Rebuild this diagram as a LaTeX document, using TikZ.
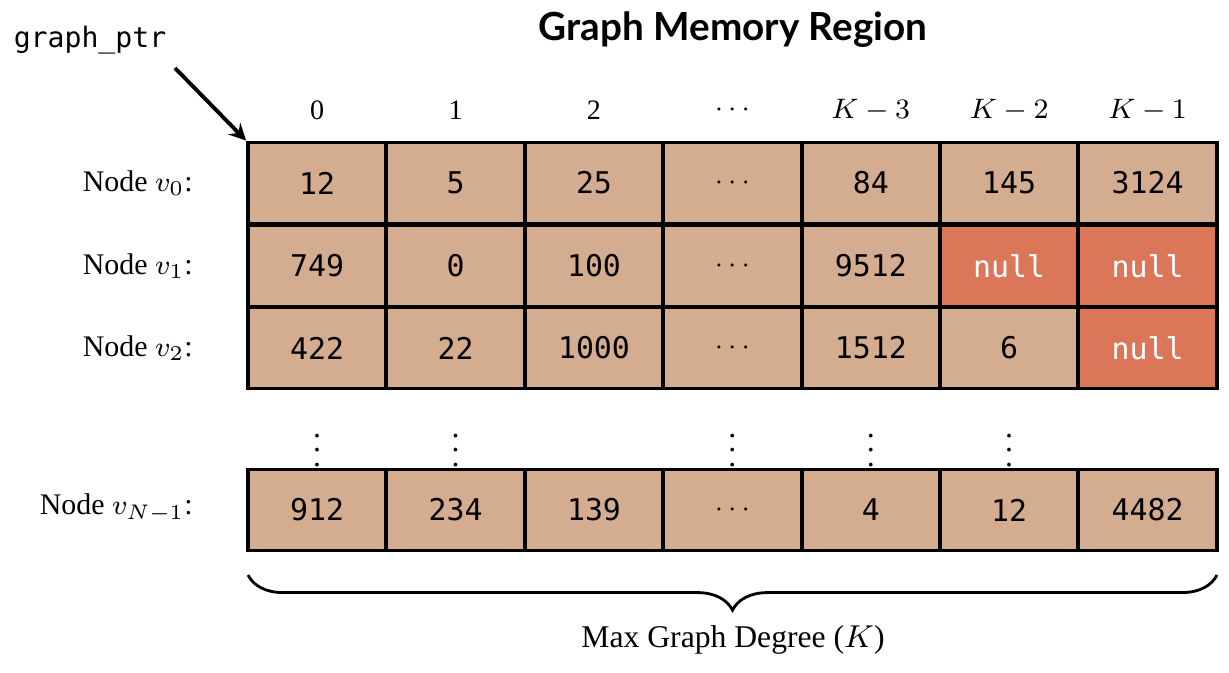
\documentclass[tikz,border=0pt]{standalone}
\usepackage{fontspec}
\setmainfont{Liberation Serif}
\setmonofont{DejaVu Sans Mono}
\newfontfamily\titlefont{Lato}
\usetikzlibrary{decorations.pathreplacing}
\definecolor{tan}{HTML}{D4AD91}
\definecolor{nul}{HTML}{DB7659}
\begin{document}
\begin{tikzpicture}[x=0.01cm,y=-0.01cm,
  cell/.style={draw=black,line width=1.1pt,fill=tan,minimum width=138.4*0.01cm,minimum height=81*0.01cm,inner sep=0pt,font=\ttfamily\fontsize{8.5}{10}\selectfont},
  nullc/.style={cell,fill=nul,text=white},
  hdr/.style={font=\fontsize{8}{10}\selectfont},
  lab/.style={anchor=east,font=\fontsize{8.5}{10}\selectfont},
  vd/.style={font=\fontsize{9}{10}\selectfont}]
\useasboundingbox (0,0) rectangle (1229,672);
\node[font=\titlefont\bfseries\fontsize{11}{13}\selectfont] (title) at (733,30) {Graph Memory Region};
\node[font=\ttfamily\fontsize{8}{10}\selectfont] (gp) at (90,40) {graph\_ptr};
\foreach \h [count=\i from 0] in {0,1,2,$\cdots$,$K-3$,$K-2$,$K-1$}
  \node[hdr] (h\i) at ({248+138.4*(\i+0.5)},110) {\h};
\foreach \r/\y/\vals in {0/183/{12/cell,5/cell,25/cell,$\cdots$/cell,84/cell,145/cell,3124/cell},1/266/{749/cell,0/cell,100/cell,$\cdots$/cell,9512/cell,null/nullc,null/nullc},2/348/{422/cell,22/cell,1000/cell,$\cdots$/cell,1512/cell,6/cell,null/nullc},3/510/{912/cell,234/cell,139/cell,$\cdots$/cell,4/cell,12/cell,4482/cell}}{
  \foreach \v/\s [count=\i from 0] in \vals
    \node[\s] (c\r\i) at ({248+138.4*(\i+0.5)},\y) {\v};
}
\node[lab] (l0) at (205,183) {Node $v_0$:};
\node[lab] (l1) at (205,266) {Node $v_1$:};
\node[lab] (l2) at (205,348) {Node $v_2$:};
\node[lab] (l3) at (205,508) {Node $v_{N-1}$:};
\foreach \i in {0,1,3,4,5}
  \node[vd] (d\i) at ({248+138.4*(\i+0.5)},440) {$\vdots$};
\coordinate (a0) at (175,68);
\draw[line width=1.1pt,-stealth] (a0) -- (c00.north west);
\coordinate (b0) at (248,575);
\coordinate (b1) at (1217,575);
\draw[line width=0.8pt,decorate,decoration={brace,mirror,amplitude=10pt}] (b0) -- (b1);
\node[font=\fontsize{9}{11}\selectfont] (mx) at (733,640) {Max Graph Degree ($K$)};
\end{tikzpicture}
\end{document}
